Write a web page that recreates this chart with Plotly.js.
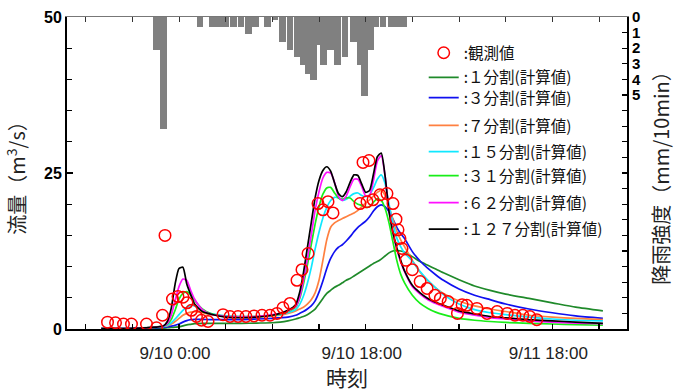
<!DOCTYPE html>
<html>
<head>
<meta charset="utf-8">
<script src="https://cdn.plot.ly/plotly-3.0.1.min.js"></script>
<style>html,body{margin:0;padding:0;background:#fff;}#chart{width:688px;height:392px;}</style>
</head>
<body>
<div id="chart"></div>
<script>
// ---- data (time in hours, axis ticks every 6 h) ----
const xTickVals = [-12, -6, 0, 6, 12, 18, 24, 30, 36, 42, 48, 54];
const xTickText = ['', '', '9/10 0:00', '', '', '', '9/10 18:00', '', '', '', '9/11 18:00', ''];
const rainTickVals = [0,1,2,3,4,5,6,7,8,9,10,11,12,13,14,15,16,17,18,19,20];
const rainTickText = ['0','1','2','3','4','5','','','','','','','','','','','','','','',''];

const rainTime = [-2.93, -2.02, 2.70, 4.28, 5.08, 5.95, 6.97, 7.97, 8.91, 9.87, 11.38, 12.34, 13.31, 14.27, 15.17, 15.98, 16.65, 17.29, 17.94, 18.58, 19.48, 20.38, 21.34, 22.41, 23.27, 23.88, 24.62, 25.33, 26.23, 27.26, 28.09, 28.84];
const rainRate = [2.14, 7.16, 0.64, 0.64, 0.64, 0.64, 0.64, 0.64, 1.11, 0.64, 0.64, 0.21, 1.6, 2.14, 2.56, 3.1, 3.63, 4.06, 1.8, 3.1, 2.14, 3.1, 2.56, 1.6, 3.1, 5.08, 2.14, 0.64, 0.64, 0.64, 0.64, 0.64];

const obsTime = [-9.19,-8.16,-7.14,-6.11,-4.18,-2.89,-2.12,-1.80,-0.84,-0.13,0.51,1.03,1.61,2.25,2.89,3.73,5.66,6.56,7.59,8.61,9.64,10.67,11.70,12.60,13.37,14.27,15.17,15.81,16.59,17.87,18.51,19.16,19.80,23.27,23.66,24.17,24.43,24.94,25.84,26.74,27.51,27.90,28.16,28.41,28.67,29.19,30.00,31.00,31.90,32.90,33.60,34.60,35.80,36.40,37.00,38.30,39.60,40.90,42.20,43.20,44.20,45.10,46.00];
const obsFlow = [1.1,1.0,0.8,0.8,0.8,0.2,2.2,15.0,4.8,5.2,5.1,4.2,3.0,2.0,1.4,1.2,2.3,2.0,2.0,2.0,2.1,2.2,2.2,2.5,3.4,4.1,7.8,9.5,12.1,20.1,19.1,20.4,18.6,20.1,26.7,20.4,27.0,20.7,21.5,21.7,20.1,17.6,15.9,14.5,12.9,11.0,9.5,7.6,6.5,5.4,4.9,4.4,2.5,3.9,3.8,3.3,2.5,2.8,2.5,2.2,2.2,2.0,1.5];

const simTime = [-10,-6,-3,-2,-1.5,-1,-0.5,0,0.5,1,1.5,2,3,4,6,8,10,12,13,14,15,15.5,16,16.5,17,17.5,18,18.5,19,19.5,20,20.5,21,21.5,22,22.5,23,23.5,24,24.5,25,25.5,26,26.5,27,27.5,28,28.5,29,30,31,32,33,34,36,38,40,42,45,48,51,54.5];

const q1 = [0.05,0.05,0.1,0.15,0.2,0.25,0.3,0.35,0.5,0.65,0.75,0.85,0.9,0.9,0.9,0.9,0.95,1.0,1.1,
  1.3,1.6,
  1.8,2.0,2.3,2.7,3.2,4.0,4.9,5.7,6.2,6.7,7.0,7.4,7.8,8.1,8.5,8.9,9.3,9.7,10.1,10.5,10.8,11.2,11.7,12.2,12.5,12.6,12.5,12.3,
  11.6,10.8,10.2,9.6,9.0,7.9,6.9,6.2,5.6,4.9,4.2,3.5,2.9];
const q3 = [0.05,0.1,0.2,0.3,0.35,0.45,0.6,0.8,1.1,1.35,1.5,1.55,1.55,1.5,1.5,1.5,1.6,1.7,1.8,
  1.9,2.2,
  2.5,2.8,3.2,3.7,4.5,5.9,7.7,9.7,11.3,12.4,13.1,13.5,14.1,14.8,15.6,16.3,16.8,17.3,18.0,18.9,19.6,19.9,19.6,18.8,17.6,16.3,15.3,14.5,
  12.4,10.9,9.7,8.7,7.8,6.4,5.4,4.7,4.0,3.2,2.6,2.1,1.7];
const q7 = [0.05,0.1,0.3,0.4,0.5,0.8,1.2,1.7,2.2,2.5,2.7,2.8,2.6,2.3,2.1,2.0,2.0,2.1,2.2,
  2.5,2.9,
  3.2,3.5,4.0,4.7,5.8,7.8,11.0,14.3,16.3,17.0,17.4,17.7,18.0,18.3,18.6,19.0,19.6,20.2,20.7,21.3,21.9,22.2,21.4,19.6,17.6,15.7,14.3,13.2,
  11.0,9.1,7.7,6.6,5.7,4.5,3.7,3.2,2.8,2.2,1.9,1.7,1.5];
const q15 = [0.05,0.1,0.3,0.4,0.6,1.0,1.6,2.3,3.0,3.5,3.8,3.7,3.0,2.5,2.1,2.0,2.0,2.2,2.3,
  2.6,3.1,
  3.9,5.3,7.3,9.8,12.8,15.5,17.8,19.5,20.6,21.1,21.0,20.6,20.8,21.3,21.7,21.8,21.4,21.2,21.5,22.6,24.0,24.7,23.3,20.0,17.0,14.6,13.2,12.2,
  10.9,9.2,7.8,6.6,5.5,4.0,3.1,2.6,2.3,1.9,1.6,1.4,1.3];
const q31 = [0.05,0.1,0.3,0.5,0.8,1.5,3.0,4.8,5.7,6.0,5.5,4.6,3.2,2.5,2.0,1.9,2.0,2.2,2.4,
  2.8,3.5,
  4.8,7.2,10.2,13.5,16.8,19.6,21.6,22.6,22.7,21.8,21.0,20.8,21.0,21.0,20.4,20.0,19.8,19.5,19.6,20.3,20.9,20.6,19.3,17.0,14.0,11.0,8.8,7.4,
  5.4,4.1,3.3,2.7,2.3,1.7,1.4,1.2,1.05,0.9,0.8,0.7,0.6];
const q62 = [0.05,0.1,0.3,0.5,0.9,2.2,4.6,6.8,8.0,7.8,6.2,4.8,3.1,2.4,2.0,1.9,2.0,2.3,2.5,
  2.9,3.6,
  5.0,7.8,11.2,15.0,19.0,22.0,24.2,25.1,25.0,23.5,21.3,20.6,21.3,22.8,24.0,24.0,22.8,21.3,21.4,23.8,26.9,27.8,24.5,19.0,15.5,12.8,10.8,9.2,
  6.8,5.6,4.7,4.1,3.6,2.7,2.2,1.8,1.6,1.3,1.1,0.95,0.85];
const q127 = [0.05,0.1,0.3,0.5,1.2,3.3,7.2,9.7,9.9,7.2,5.5,4.0,2.8,2.4,1.9,1.8,1.9,2.2,2.5,
  3.0,3.9,
  5.8,9.0,13.0,17.0,21.0,23.8,25.4,26.0,25.3,23.4,21.7,21.2,22.0,23.5,24.7,24.6,23.2,21.9,22.2,24.8,27.6,28.2,24.5,18.8,15.5,13.0,11.0,9.3,
  7.0,5.8,4.9,4.3,3.8,2.9,2.4,2.0,1.8,1.5,1.3,1.1,0.9];

const seriesNames = [':観測値', ':１分割(計算値)', ':３分割(計算値)', ':７分割(計算値)', ':１５分割(計算値)', ':３１分割(計算値)', ':６２分割(計算値)', ':１２７分割(計算値)'];

// ---- styling ----
const CJK = 'Noto Sans CJK JP, Noto Sans, sans-serif';
const LAT = 'Liberation Sans, Arial, sans-serif';
const simSeries = [q1, q3, q7, q15, q31, q62, q127];
const simColors = ['#1f8a2a', '#1010f0', '#ff8040', '#10e8ff', '#18ee18', '#ff10ff', '#000000'];
const legendY = [0.884, 0.805, 0.740, 0.651, 0.567, 0.490, 0.404, 0.319];
const legendX = 0.637;

const traces = [];
traces.push({
  type: 'bar', x: rainTime, y: rainRate, xaxis: 'x2', yaxis: 'y2',
  width: 0.85, marker: {color: '#808080', line: {width: 0}}, showlegend: false, hoverinfo: 'skip'
});
simSeries.forEach((q, i) => {
  traces.push({
    type: 'scatter', mode: 'lines', x: simTime, y: q, name: seriesNames[i + 1],
    line: {color: simColors[i], width: 1.7, shape: 'spline', smoothing: 0.6},
    legend: 'legend' + (i + 2)
  });
});
traces.push({
  type: 'scatter', mode: 'markers', x: obsTime, y: obsFlow, name: seriesNames[0],
  marker: {symbol: 'circle-open', size: 11.5, color: '#ff0000', line: {width: 1.5, color: '#ff0000'}},
  legend: 'legend'
});

const layout = {
  width: 688, height: 392,
  margin: {l: 67, r: 61, t: 17, b: 63},
  paper_bgcolor: '#fff', plot_bgcolor: 'rgba(0,0,0,0)',
  bargap: 0,
  xaxis: {
    range: [-14.4, 57.6], showgrid: false, zeroline: false,
    showline: true, linecolor: '#000', linewidth: 2,
    tickmode: 'array', tickvals: xTickVals, ticktext: xTickText,
    ticks: 'inside', ticklen: 5, tickwidth: 1.5, tickcolor: '#000',
    ticklabelstandoff: 8, ticklabelshift: -4,
    tickfont: {family: LAT, size: 17, color: '#222'},
    title: {text: '時刻', font: {family: CJK, size: 21, color: '#222'}, standoff: 8}
  },
  xaxis2: {
    range: [-14.4, 57.6], overlaying: 'x', side: 'top', showgrid: false, zeroline: false,
    showline: true, linecolor: '#777', linewidth: 1,
    tickmode: 'array', tickvals: xTickVals, ticks: 'inside', ticklen: 5, tickwidth: 1, tickcolor: '#333',
    showticklabels: false
  },
  yaxis: {
    range: [0, 50], showgrid: false, zeroline: false,
    showline: true, linecolor: '#000', linewidth: 2,
    tickmode: 'array', tickvals: [0, 25, 50],
    ticks: 'inside', ticklen: 6, tickwidth: 1.5, tickcolor: '#000',
    minor: {dtick: 5, tick0: 0, ticks: 'inside', ticklen: 5, tickwidth: 1, tickcolor: '#000'},
    tickfont: {family: LAT, size: 16, color: '#000', weight: 'bold'},
    title: {text: '流量（m<sup>3</sup>/s）', font: {family: CJK, size: 20, color: '#222'}, standoff: 13}
  },
  yaxis2: {
    range: [20, 0], overlaying: 'y', side: 'right', showgrid: false, zeroline: false,
    showline: true, linecolor: '#000', linewidth: 2,
    tickmode: 'array', tickvals: rainTickVals, ticktext: rainTickText,
    ticks: 'inside', ticklen: 5, tickwidth: 1.2, tickcolor: '#000',
    tickfont: {family: LAT, size: 15, color: '#000', weight: 'bold'},
    title: {text: '降雨強度（mm/10min）', font: {family: CJK, size: 20, color: '#222'}, standoff: 15}
  }
};
const legNames = ['legend','legend2','legend3','legend4','legend5','legend6','legend7','legend8'];
legNames.forEach((ln, i) => {
  layout[ln] = {
    x: legendX, y: legendY[i], xanchor: 'left', yanchor: 'middle',
    bgcolor: 'rgba(0,0,0,0)', borderwidth: 0,
    font: {family: CJK, size: 15.5, color: '#111'},
    tracegroupgap: 0
  };
});

Plotly.newPlot('chart', traces, layout, {displayModeBar: false, staticPlot: true});
</script>
</body>
</html>
